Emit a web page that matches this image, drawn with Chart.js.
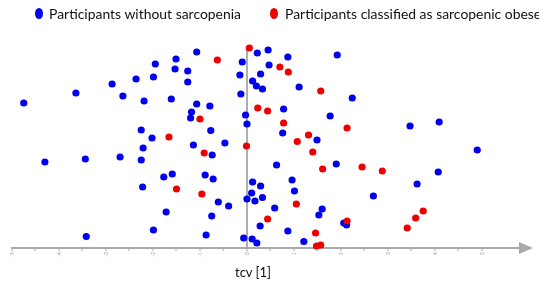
<!DOCTYPE html>
<html>
<head>
<meta charset="utf-8">
<script src="https://cdn.jsdelivr.net/npm/chart.js@4/dist/chart.umd.min.js"></script>
<style>
  html, body { margin:0; padding:0; background:#fff; }
  body { width:539px; height:283px; overflow:hidden; position:relative; font-family:Lato, "Liberation Sans", sans-serif; }
  #chart { position:absolute; left:0; top:0; }
  .dot { position:absolute; width:8px; height:11px; border-radius:50%; }
  .lbl { position:absolute; font-size:13px; line-height:13px; color:#111; white-space:nowrap; transform-origin:0 0; }
  #xtitle { position:absolute; left:235px; top:266px; font-size:13px; line-height:13px; color:#111; white-space:nowrap; }
</style>
</head>
<body>
<canvas id="chart" width="539" height="283"></canvas>
<span class="dot" style="left:35px;top:8px;background:#0000ee"></span>
<span class="lbl" id="lbl1" style="left:49px;top:8px">Participants without sarcopenia</span>
<span class="dot" style="left:270px;top:8px;background:#ee0000"></span>
<span class="lbl" id="lbl2" style="left:285px;top:8px">Participants classified as sarcopenic obese</span>
<div id="xtitle">tcv [1]</div>
<script>
// tcv value (x) and vertical jitter (y, arbitrary units 0-201)
const blueX = [-1.07,-1.51,-1.95,-1.53,-1.26,-0.10,0.22,0.45,0.47,-0.15,0.29,0.12,0.20,0.33,-0.13,-1.26,-1.99,-2.36,-2.87,-3.64,
  -4.75,-2.64,-2.19,-1.61,-1.07,-0.79,-1.18,-1.20,-0.03,0.00,-2.25,-0.77,0.87,1.92,1.11,2.24,0.78,1.77,3.47,4.09,
  -2.02,-1.14,-0.47,-2.21,-0.74,-4.30,-3.44,-2.70,-2.25,-1.77,-1.59,-0.89,-0.72,-2.22,0.12,0.29,0.10,0.00,0.17,0.33,
  -0.61,-0.39,-1.72,-0.75,0.28,-1.99,-3.42,-0.87,-0.07,0.11,0.21,0.76,1.49,4.90,0.63,1.90,4.07,3.62,0.96,1.01,
  2.69,0.59,1.60,1.53,2.06,2.12,0.87,1.21];
const blueY = [196,189,184,179,177,186,195,198,183,173,174,167,162,159,154,166,171,169,164,155,
  145,152,147,149,144,142,136,130,133,124,118,117.5,191,193,161,150,139,132,122,126,
  110,103,105,100,93,86,89,91,88,71,74,73,69,61,66,62,55,49,47,50.5,
  46,42,36,32,22,18,11.5,13,10,9,5,115,108,98,83,84,76,64,68,57,
  52,40,39,33,25,23,17,6.5];
const redX = [0.05,-0.63,-1.00,0.23,0.44,0.70,0.88,1.57,0.78,2.13,-1.66,-0.01,-0.91,-1.50,-0.96,0.44,1.31,1.07,1.40,1.61,
  2.45,2.88,1.05,3.75,3.59,3.41,2.13,1.46,1.48,1.57];
const redY = [200,188,129,140,137,181,176,157,125,120,111,102,95,59,54,29,113,106.5,96,79,
  81,77,44,37,30,20,27,15,2,3];
const xTicks = [-5,-4.5,-4,-3.5,-3,-2.5,-2,-1.5,-1,-0.5,0,0.5,1,1.5,2,2.5,3,3.5,4,4.5,5];

const axisGrey = "#a9a9a9";

const arrowPlugin = {
  id:"arrow",
  afterDraw(chart){
    const a = chart.chartArea, ctx = chart.ctx;
    ctx.save();
    ctx.fillStyle = axisGrey;
    ctx.beginPath();
    ctx.moveTo(a.right - 1, a.bottom - 6);
    ctx.lineTo(a.right + 13, a.bottom);
    ctx.lineTo(a.right - 1, a.bottom + 6);
    ctx.closePath();
    ctx.fill();
    ctx.restore();
  }
};

new Chart(document.getElementById("chart"), {
  type:"scatter",
  data:{datasets:[
    {label:"Participants classified as sarcopenic obese", data:redX.map((x,i)=>({x, y:redY[i]})),
      backgroundColor:"#ee0000", borderWidth:0, pointRadius:3.6, clip:false},
    {label:"Participants without sarcopenia", data:blueX.map((x,i)=>({x, y:blueY[i]})),
      backgroundColor:"#0000ee", borderWidth:0, pointRadius:3.6, clip:false}
  ]},
  options:{
    responsive:false, animation:false,
    layout:{padding:{top:47, left:12, right:19, bottom:0}},
    plugins:{legend:{display:false}, tooltip:{enabled:false}},
    scales:{
      x:{type:"linear", min:-5, max:5.81, z:1,
        afterBuildTicks(scale){ scale.ticks = xTicks.map(v => ({value:v})); },
        afterFit(scale){ scale.height = 35; scale.paddingLeft = 0; scale.paddingRight = 0; },
        ticks:{autoSkip:false, minRotation:90, maxRotation:90, padding:1, color:"#999",
          font:{size:5, family:"Lato"}, callback:v => Number.isInteger(v) ? String(v) : ""},
        grid:{drawOnChartArea:true, drawTicks:true, tickLength:3, tickColor:axisGrey, tickWidth:1,
          color:c => (c.tick && c.tick.value === 0) ? "rgba(160,160,160,0.85)" : "rgba(0,0,0,0)",
          lineWidth:c => (c.tick && c.tick.value === 0) ? 2 : 0},
        border:{display:true, color:axisGrey, width:2}
      },
      y:{display:false, min:0, max:201}
    }
  },
  plugins:[arrowPlugin]
});

// match the legend text width of the reference
const lbl1 = document.getElementById("lbl1"), lbl2 = document.getElementById("lbl2");
const k = 192 / lbl1.getBoundingClientRect().width;
lbl1.style.transform = `scaleX(${k})`;
lbl2.style.transform = `scaleX(${k})`;
</script>
</body>
</html>
